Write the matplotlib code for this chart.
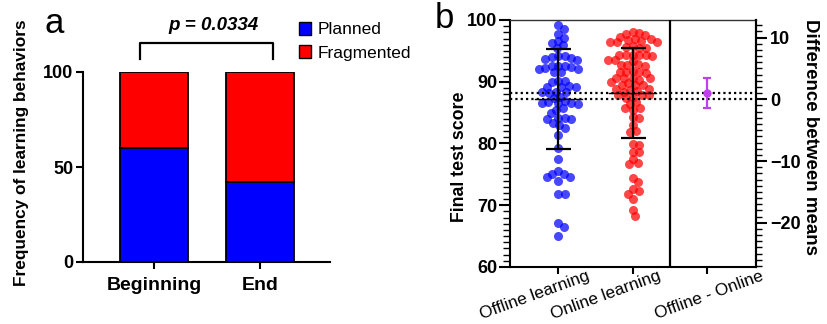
import numpy as np
import matplotlib
matplotlib.use('Agg')
import matplotlib.pyplot as plt
from matplotlib.ticker import MultipleLocator
from matplotlib.patches import Patch
import matplotlib.transforms as mtransforms

plt.rcParams['font.family'] = ['Liberation Sans', 'DejaVu Sans']

# ---- panel a data ----
stages = ['Beginning', 'End']
planned = [60, 42]
fragmented = [40, 58]
p_text = 'p = 0.0334'

# ---- panel b data ----
groups = ['Offline learning', 'Online learning', 'Offline - Online']
offline = [99.2, 98.6, 97.7, 97.1, 96.6, 96.2, 95.9, 95.5, 94.2, 94.2, 94.0,
           93.9, 93.7, 93.5, 92.6, 92.6, 92.6, 92.4, 92.3, 92.1, 92.0, 91.6,
           91.6, 90.1, 90.1, 89.9, 89.3, 89.1, 89.2, 89.1, 88.4, 88.4, 88.4,
           88.2, 87.6, 87.3, 86.9, 86.8, 86.6, 86.5, 86.5, 86.4, 85.7, 85.4,
           84.9, 84.1, 84.1, 84.0, 83.9, 83.4, 83.0, 82.5, 81.4, 79.3, 77.5,
           75.5, 75.0, 75.0, 74.5, 74.5, 74.0, 71.9, 71.9, 67.1, 66.5, 65.0]
online = [98.0, 97.9, 97.8, 97.5, 97.3, 97.0, 97.0, 96.8, 96.4, 96.4, 96.4,
          96.6, 95.5, 95.6, 95.5, 95.8, 94.4, 94.4, 94.3, 94.1, 94.3, 94.3,
          93.5, 93.3, 93.5, 92.5, 92.7, 92.7, 92.8, 91.8, 91.6, 91.5, 91.4,
          91.6, 90.6, 90.6, 90.6, 90.6, 90.3, 89.9, 89.8, 89.5, 89.5, 89.5,
          88.9, 88.7, 88.9, 88.5, 88.4, 87.8, 87.8, 87.8, 87.6, 87.3, 86.7,
          86.4, 85.8, 85.7, 85.4, 84.3, 84.1, 83.0, 81.9, 82.1, 79.9, 79.8,
          78.7, 78.7, 77.5, 76.9, 76.6, 74.4, 73.7, 72.6, 72.3, 71.9, 71.0,
          69.3, 68.3]
off_mean, off_sd = 87.16, 8.1
on_mean, on_sd = 88.13, 7.3
diff_mean = 0.97
diff_ci = (-1.46, 3.4)


def swarm(vals, d, xscale, yscale):
    # simple beeswarm: offsets (data units) so dots of spacing d px don't overlap
    vals = np.asarray(vals)
    order = np.argsort(-vals)
    placed = []
    offs = np.zeros(len(vals))
    for i in order:
        y = vals[i] * yscale
        near = [(px, py) for px, py in placed if abs(py - y) < d]
        cands = [0.0]
        for px, py in near:
            dx = np.sqrt(d ** 2 - (py - y) ** 2)
            cands += [px + dx, px - dx]
        cands.sort(key=abs)
        for c in cands:
            if all((c - px) ** 2 + (y - py) ** 2 >= d ** 2 - 1e-6 for px, py in near):
                break
        placed.append((c, y))
        offs[i] = c / xscale
    return offs


def num_ticks(axis_labels):
    for lab in axis_labels:
        lab.set_fontsize(13)
        lab.set_fontweight('bold')


fig = plt.figure(figsize=(8.27, 3.24), dpi=100)
W, H = 827, 324

# ================= panel a =================
ax = fig.add_axes([83 / W, 1 - 262 / H, (330 - 83) / W, (262 - 72) / H])
x = np.arange(len(stages))
ax.bar(x, planned, width=0.65, color='#0000ff', edgecolor='black', linewidth=1.3,
       label='Planned')
ax.bar(x, fragmented, width=0.65, bottom=planned, color='#ff0000',
       edgecolor='black', linewidth=1.3, label='Fragmented')
ax.set_xlim(-0.67, 1.66)
ax.set_ylim(0, 100)
ax.set_yticks([0, 50, 100])
ax.set_xticks(x)
ax.set_xticklabels(stages, fontsize=14, fontweight='bold')
num_ticks(ax.get_yticklabels())
for s in ['top', 'right']:
    ax.spines[s].set_visible(False)
for s in ['left', 'bottom']:
    ax.spines[s].set_linewidth(1.5)
ax.tick_params(axis='both', width=1.5, length=5)
ax.tick_params(axis='x', pad=6)
ax.tick_params(axis='y', pad=2)

# significance bracket
ax.plot([-0.135, -0.135, 1.12, 1.12], [107, 115.1, 115.1, 107], color='black',
        lw=1.6, clip_on=False)
fig.text(213 / W, 1 - 26 / H, p_text, ha='center', va='center', fontsize=13.5,
         fontweight='bold', fontstyle='italic')

handles = [Patch(facecolor='#0000ff', edgecolor='black', linewidth=1.0),
           Patch(facecolor='#ff0000', edgecolor='black', linewidth=1.0)]
fig.legend(handles, ['Planned', 'Fragmented'], loc='upper left',
           bbox_to_anchor=(299 / W, 1 - 22 / H), frameon=False, fontsize=12.5,
           handlelength=0.7, handleheight=0.75, handletextpad=0.35,
           labelspacing=0.45, borderpad=0, borderaxespad=0)

fig.text(22 / W, 1 - 153 / H, 'Frequency of learning behaviors', rotation=90,
         ha='center', va='center', fontsize=12.4, fontweight='bold')
fig.text(45 / W, 1 - 33 / H, 'a', fontsize=25, va='baseline', ha='left')

# ================= panel b =================
bx = fig.add_axes([510 / W, 1 - 267 / H, (756 - 510) / W, (267 - 20) / H])
xlo, xhi = -0.65, 2.66
ylo, yhi = 60, 100
bx.set_xlim(xlo, xhi)
bx.set_ylim(ylo, yhi)
xs = (756 - 510) / (xhi - xlo)
ys = (267 - 20) / (yhi - ylo)

off_x = swarm(offline, 6.6, xs, ys)
on_x = swarm(online, 6.6, xs, ys)
bx.plot(0 + off_x, offline, 'o', ms=6.5, color='#0000ff', alpha=0.72, mec='none',
        zorder=2)
bx.plot(1 + on_x, online, 'o', ms=6.5, color='#ff0000', alpha=0.72, mec='none',
        zorder=2)

for gx, m, sd in [(0, off_mean, off_sd), (1, on_mean, on_sd)]:
    bx.plot([gx - 0.32, gx + 0.32], [m, m], color='black', lw=1.0, zorder=4)
    bx.errorbar(gx, m, yerr=sd, fmt='none', ecolor='black', elinewidth=1.6,
                capsize=9, capthick=1.6, zorder=4)

for m in [off_mean, on_mean]:
    bx.axhline(m, color='black', lw=1.6, ls=(0, (1, 1.4)), zorder=3)

bx.axvline(1.5, color='black', lw=1.6, zorder=3)

bx.set_xticks(range(len(groups)))
bx.set_xticklabels([])
# rotated group labels, centred slightly left of the first two ticks
shifts = [-24, -27, 2]
trans = mtransforms.blended_transform_factory(bx.transData, bx.transAxes)
for gx, (lab, dx) in enumerate(zip(groups, shifts)):
    t = trans + mtransforms.ScaledTranslation(dx / 100, -28 / 100, fig.dpi_scale_trans)
    bx.text(gx, 0, lab, transform=t, rotation=20, ha='center', va='center',
            fontsize=12.3, rotation_mode='default', clip_on=False)

bx.set_yticks([60, 70, 80, 90, 100])
bx.yaxis.set_minor_locator(MultipleLocator(1))
num_ticks(bx.get_yticklabels())
for s in ['left', 'bottom', 'right']:
    bx.spines[s].set_linewidth(1.5)
bx.spines['top'].set_linewidth(1.0)
bx.spines['top'].set_color('#333333')
bx.tick_params(axis='y', which='major', width=1.5, length=8, pad=1)
bx.tick_params(axis='y', which='minor', width=1.0, length=5)
bx.tick_params(axis='x', width=1.5, length=5, pad=2)

# difference axis
rx = bx.twinx()
rx.set_ylim(ylo - off_mean, yhi - off_mean)
rx.set_yticks([-20, -10, 0, 10])
rx.yaxis.set_minor_locator(MultipleLocator(1))
num_ticks(rx.get_yticklabels())
for s in ['left', 'bottom', 'top']:
    rx.spines[s].set_visible(False)
rx.spines['right'].set_linewidth(1.5)
rx.tick_params(axis='y', which='major', width=1.5, length=8, pad=2)
rx.tick_params(axis='y', which='minor', width=1.0, length=4)
rx.errorbar(2, diff_mean, yerr=[[diff_mean - diff_ci[0]], [diff_ci[1] - diff_mean]],
            fmt='o', ms=5, color='#c040f0', ecolor='#c040f0', elinewidth=1.6,
            capsize=3, capthick=1.6, zorder=5)

fig.text(460 / W, 1 - 157 / H, 'Final test score', rotation=90, ha='center',
         va='center', fontsize=12.8, fontweight='bold')
fig.text(811 / W, 1 - 137 / H, 'Difference between means', rotation=270,
         ha='center', va='center', fontsize=13.5, fontweight='bold')
fig.text(435 / W, 1 - 28 / H, 'b', fontsize=25, va='baseline', ha='left')

fig.savefig('out.png', dpi=100)
